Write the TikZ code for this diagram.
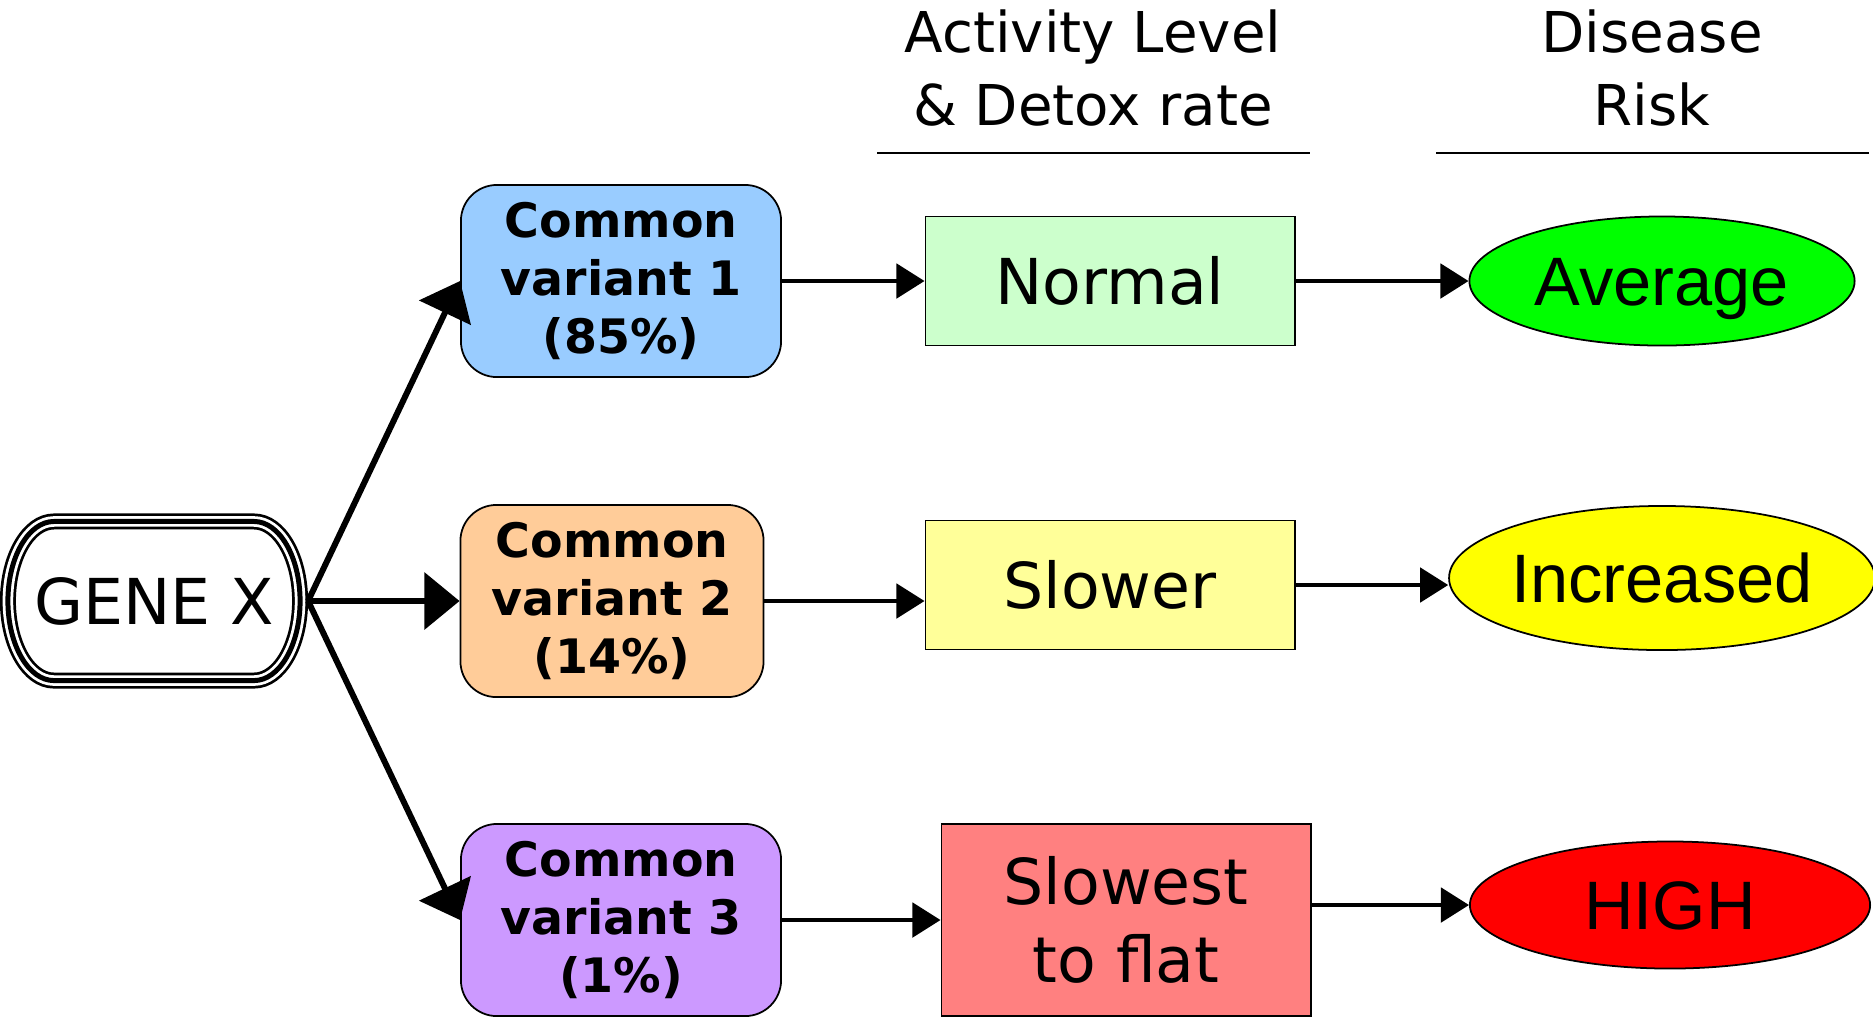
\documentclass[tikz,border=0pt]{standalone}
\usepackage{fontspec}
\setmainfont{DejaVu Sans}
\newfontfamily\riskfont{Liberation Sans}
\usetikzlibrary{shapes.geometric,arrows.meta}
\definecolor{varblue}{HTML}{99CCFF}
\definecolor{varorange}{HTML}{FFCC99}
\definecolor{varpurple}{HTML}{CC99FF}
\definecolor{ratenormal}{HTML}{CCFFCC}
\definecolor{rateslow}{HTML}{FFFF99}
\definecolor{rateslowest}{HTML}{FF8080}
\definecolor{riskgreen}{HTML}{00FF00}
\definecolor{riskyellow}{HTML}{FFFF00}
\definecolor{riskred}{HTML}{FF0000}

\begin{document}
\begin{tikzpicture}[x=0.01cm,y=-0.01cm,
    genebox/.style={minimum width=3.08cm,minimum height=1.75cm,inner sep=0pt,outer sep=0pt,
      font=\fontsize{18}{22}\selectfont},
    genering/.style={draw,line width=1.42pt,
      preaction={draw,line width=4.55pt},preaction={draw=white,line width=3pt}},
    variant/.style={draw,rounded corners=0.36cm,line width=0.5pt,minimum width=3.2cm,minimum height=1.92cm,
      inner sep=0pt,align=center,font=\fontsize{13.5}{16.6}\selectfont\bfseries},
    rate/.style={draw,line width=0.5pt,minimum width=3.69cm,minimum height=1.29cm,inner sep=0pt,
      align=center,font=\fontsize{18}{22}\selectfont},
    risk/.style={draw,ellipse,line width=0.5pt,inner sep=0pt,text height=14pt,text depth=0pt,
      font=\riskfont\fontsize{19.5}{22}\selectfont},
    head/.style={align=center,inner sep=0pt,font=\fontsize{16}{21}\selectfont},
    bigarr/.style={line width=1.7pt,-{Triangle[length=10pt,width=16pt]}},
    arr/.style={line width=1.1pt,-{Triangle[length=8pt,width=9.8pt]}}
  ]
  \useasboundingbox (0,0) rectangle (1873,1017);
  % column heads
  \node[head] (acthead) at (1093,68) {Activity Level\\\& Detox rate};
  \node[head] (riskhead) at (1652,68) {Disease\\Risk};
  \draw[line width=0.6pt] (877,153) -- (1310,153);
  \draw[line width=0.6pt] (1436,153) -- (1869,153);
  % gene and variants
  \node[genebox] (gene) at (154,601) {GENE X};
  \draw[genering] ([shift={(-1cm,0.795cm)}]gene.center)
    arc[start angle=90,end angle=270,x radius=0.46cm,y radius=0.795cm] -- ++(2cm,0)
    arc[start angle=-90,end angle=90,x radius=0.46cm,y radius=0.795cm] -- cycle;
  \node[variant,fill=varblue] (var1) at (621,281) {Common\\variant 1\\(85\%)};
  \node[variant,fill=varorange,minimum width=3.03cm] (var2) at (612,601) {Common\\variant 2\\(14\%)};
  \node[variant,fill=varpurple] (var3) at (621,920) {Common\\variant 3\\(1\%)};
  % activity level
  \node[rate,fill=ratenormal] (normal) at (1110,281) {Normal};
  \node[rate,fill=rateslow] (slower) at (1110,585) {Slower};
  \node[rate,fill=rateslowest,minimum height=1.92cm] (slowest) at (1126,920) {Slowest\\to flat};
  % disease risk
  \node[risk,fill=riskgreen,minimum width=3.85cm,minimum height=1.29cm] (average) at (1662,281) {Average};
  \node[risk,fill=riskyellow,minimum width=4.16cm,minimum height=1.44cm] (increased) at (1662,578) {Increased};
  \node[risk,fill=riskred,minimum width=4.0cm,minimum height=1.27cm] (high) at (1670,905) {HIGH};
  % arrows
  \draw[bigarr] (gene.east) -- (var1.west);
  \draw[bigarr] (gene.east) -- (var2.west);
  \draw[bigarr] (gene.east) -- (var3.west);
  \draw[arr] (var1) -- (normal);
  \draw[arr] (normal) -- (average);
  \draw[arr] (var2) -- (var2 -| slower.west);
  \draw[arr] (slower) -- (slower -| increased.west);
  \draw[arr] (var3) -- (slowest);
  \draw[arr] (high -| slowest.east) -- (high);
\end{tikzpicture}
\end{document}
